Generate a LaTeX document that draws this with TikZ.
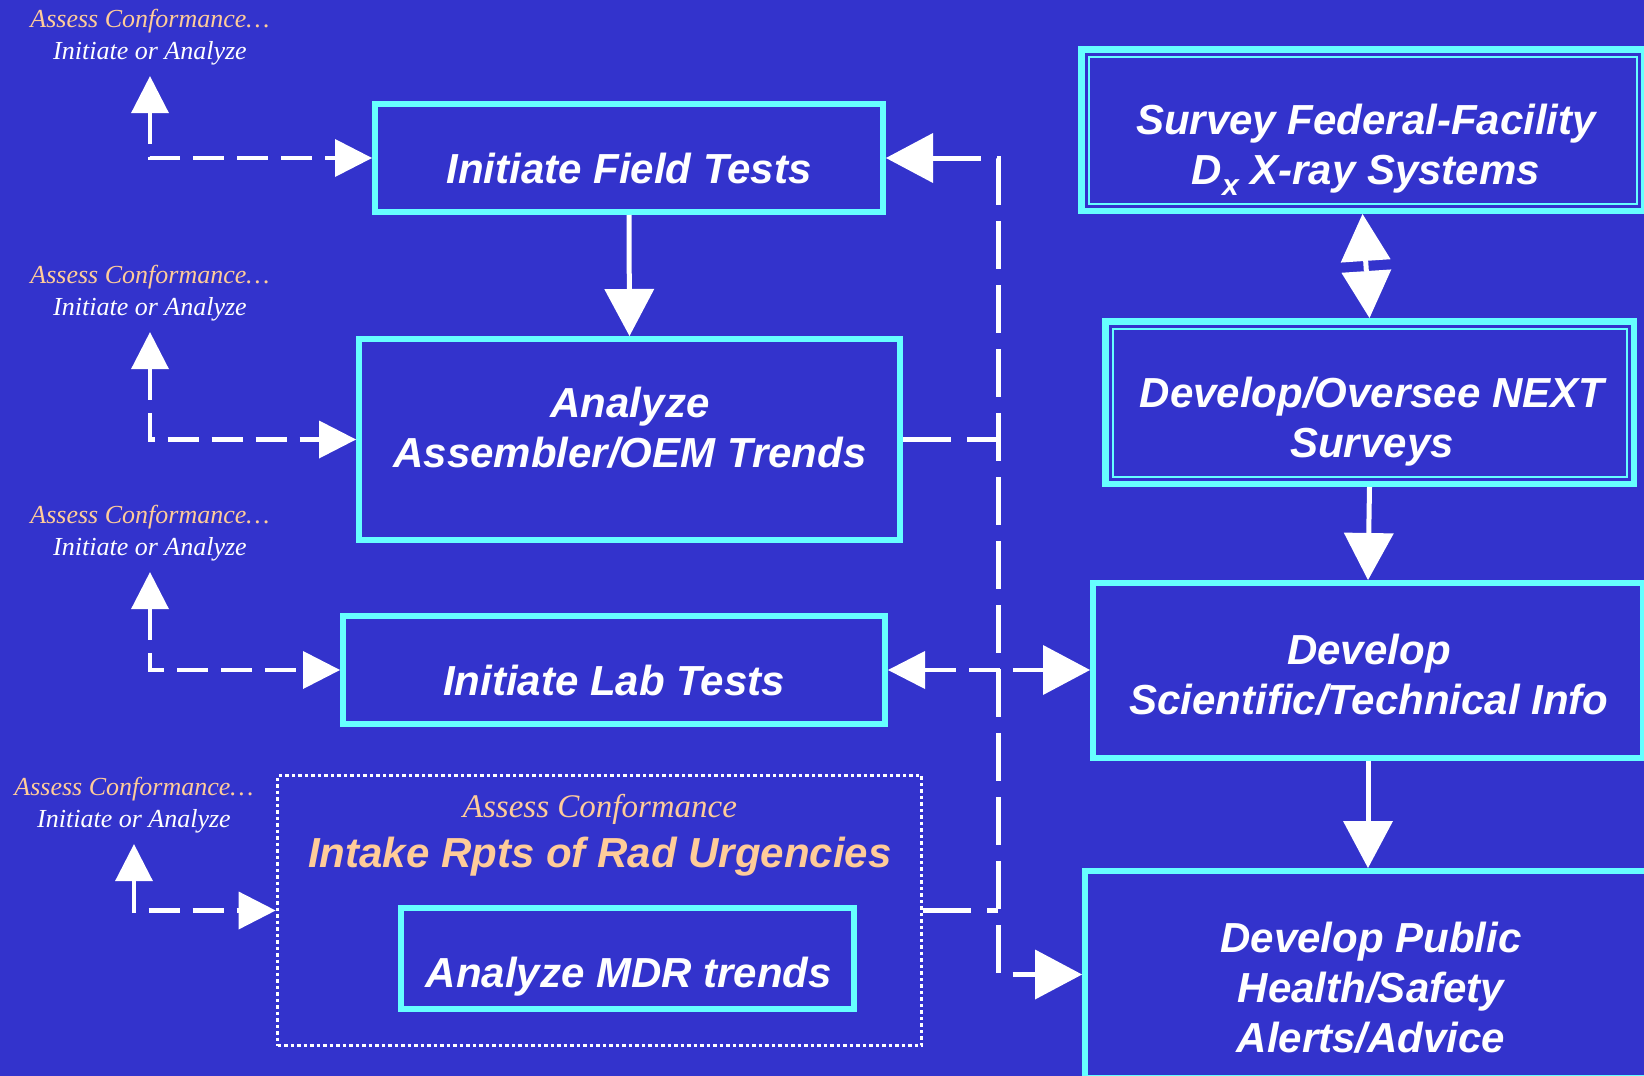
\documentclass[tikz,border=0pt]{standalone}
\usepackage{fontspec}
\setmainfont{Liberation Serif}
\setsansfont{Liberation Sans}
\usetikzlibrary{arrows.meta}

\definecolor{bgBlue}{RGB}{51,51,204}
\definecolor{frameCyan}{RGB}{102,255,255}
\definecolor{notePeach}{RGB}{255,204,153}

\begin{document}
\begin{tikzpicture}
[x=1pt,y=-1pt,
  bigtip/.tip={Triangle[length=47pt,width=50pt,line width=0pt]},
  smalltip/.tip={Triangle[length=37pt,width=38pt,line width=0pt]},
  boxDecorate/.style={shape=rectangle,draw=frameCyan,line width=6pt,inner sep=0pt},
  doubleDecorate/.style={boxDecorate,line width=6.5pt},
  innerDecorate/.style={draw=frameCyan,line width=2pt},
  groupDecorate/.style={shape=rectangle,draw=white,line width=3.8pt,dash pattern=on 3.5pt off 3pt,inner sep=0pt},
  textDecorate/.style={text=white,align=center,inner sep=0pt,
    font=\fontsize{42}{50}\selectfont\sffamily\bfseries\itshape},
  noteDecorate/.style={text=white,align=center,inner xsep=0pt,inner ysep=11pt,
    font=\fontsize{26}{32}\selectfont\itshape},
  flowDecorate/.style={draw=white,line width=5pt,-bigtip},
  dashDecorate/.style={draw=white,line width=4.5pt,dash pattern=on 31pt off 13pt},
  busDecorate/.style={draw=white,line width=5pt,dash pattern=on 48pt off 16pt}]
\useasboundingbox (0,0) rectangle (1644,1076);
\fill[bgBlue] (0,0) rectangle (1644,1076);
%% boxes
\foreach \nodename/\x/\y/\w/\h in {field/629/158/508/108, analyze/629.5/439.5/541/201,
    lab/614/670/542/108, mdr/627.5/958.5/453/101, sci/1368/670.5/550/175,
    public/1371/974.5/572/207} {
  \node (\nodename) at (\x,\y) [boxDecorate,minimum width=\w pt,minimum height=\h pt] {};
}
\foreach \nodename/\x/\y/\w/\h in {survey/1362.5/130/562.5/161.5, next/1369.5/402.5/528.5/162.5} {
  \node (\nodename) at (\x,\y) [doubleDecorate,minimum width=\w pt,minimum height=\h pt] {};
  \draw[innerDecorate] ([shift={(10.5,10.5)}]\nodename.north west)
    rectangle ([shift={(-10.5,-10.5)}]\nodename.south east);
}
\node (intake) at (599.5,910.5) [groupDecorate,minimum width=644pt,minimum height=270pt] {};
%% box texts
\node (fieldText) at (629,168) [textDecorate] {Initiate Field Tests};
\node (analyzeText) at (630,428) [textDecorate] {Analyze\\Assembler/OEM Trends};
\node (labText) at (614,680) [textDecorate] {Initiate Lab Tests};
\node (mdrText) at (629,977) [textDecorate] {Analyze MDR trends};
\node (intakeText) at (600,835) [textDecorate,text=notePeach]
  {{\fontsize{33}{50}\selectfont\rmfamily\mdseries\itshape Assess Conformance}\\Intake Rpts of Rad Urgencies};
\node (surveyText) at (1366,150) [textDecorate]
  {Survey Federal-Facility\\D\raisebox{-11pt}{\fontsize{30}{30}\selectfont x} X-ray Systems};
\node (nextText) at (1372,422) [textDecorate] {Develop/Oversee NEXT\\Surveys};
\node (sciText) at (1369,675) [textDecorate] {Develop\\Scientific/Technical Info};
\node (publicText) at (1371,988) [textDecorate] {Develop Public\\Health/Safety\\Alerts/Advice};
%% notes
\foreach \nodename/\x/\y in {n1/150/37, n2/150/293, n3/150/533, n4/134/805} {
  \node (\nodename) at (\x,\y) [noteDecorate]
    {{\color{notePeach}Assess Conformance…}\\Initiate or Analyze};
}
%% edges
\foreach \startnode/\endnode in {n1/field, n2/analyze, n3/lab, n4/intake} {
  \draw[dashDecorate,smalltip-smalltip] (\startnode.south) |- (\endnode.west);
}
\coordinate (bus) at (998,158);
\draw[busDecorate,bigtip-bigtip] (field.east) -- (bus) |- (public.west);
\draw[busDecorate] (analyze.east) -- (analyze.east -| bus);
\draw[busDecorate] (intake.east) -- (intake.east -| bus);
\draw[dashDecorate,smalltip-bigtip] (lab.east) -- (lab.east -| sci.west);
\draw[flowDecorate] (field.south) -- (analyze.north);
\draw[flowDecorate,bigtip-bigtip] (survey.south) -- (next.north);
\draw[flowDecorate] (next.south) -- (sci.north);
\draw[flowDecorate] (sci.south) -- (sci.south |- public.north);
\end{tikzpicture}
\end{document}
